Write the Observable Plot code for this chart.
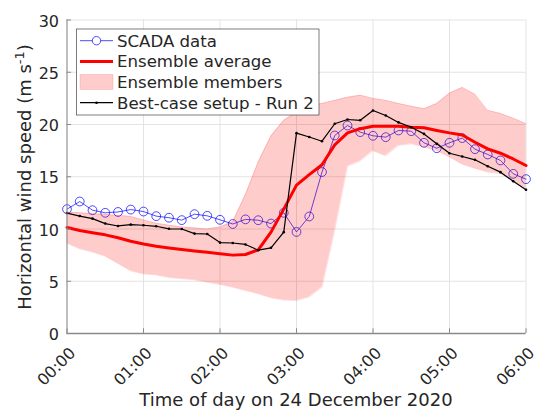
<!DOCTYPE html>
<html><head><meta charset="utf-8">
<script src="https://cdn.jsdelivr.net/npm/d3@7"></script>
<script src="https://cdn.jsdelivr.net/npm/@observablehq/plot@0.6"></script>
<style>
body{margin:0;background:#fff;}
#chart{position:relative;width:537px;height:411px;overflow:hidden;}
</style>
</head><body><div id="chart"></div>
<script>
// minutes after 00:00 on 24 December 2020
const minutes = [0,10,20,30,40,50,60,70,80,90,100,110,120,130,140,150,160,170,180,190,200,210,220,230,240,250,260,270,280,290,300,310,320,330,340,350,360];
const scada = [11.9,12.63,11.8,11.55,11.63,11.86,11.67,11.23,11.08,10.85,11.42,11.26,10.88,10.48,10.92,10.84,10.52,11.55,9.72,11.2,15.45,18.95,19.9,19.27,18.92,18.79,19.43,19.36,18.25,17.73,18.25,18.7,17.64,17.13,16.56,15.28,14.77];
const ensembleAvg = [10.15,9.85,9.65,9.44,9.16,8.83,8.56,8.35,8.18,8.03,7.9,7.78,7.63,7.5,7.56,8.0,9.7,11.9,14.2,15.2,16.15,18.05,19.2,19.6,19.84,19.84,19.84,19.74,19.68,19.43,19.2,19.0,18.3,17.67,17.25,16.7,16.08];
const ensembleMax = [11.6,11.55,11.45,11.4,11.3,11.2,10.85,10.55,10.35,10.2,10.1,10.0,10.2,10.7,13.3,16.4,18.9,20.4,21.2,21.8,22.0,22.3,22.6,22.8,22.5,22.3,22.0,21.75,21.5,22.0,23.0,23.55,22.9,21.35,21.05,20.6,20.07];
const ensembleMin = [8.64,8.1,7.8,7.4,6.7,6.0,5.7,5.6,5.35,5.25,5.14,4.91,4.69,4.43,4.11,3.8,3.42,3.2,3.16,3.5,4.43,9.9,16.0,16.5,17.5,17.0,18.0,18.15,17.85,17.5,16.9,16.2,15.8,15.45,15.3,14.62,13.9];
const bestCase = [11.52,11.24,10.99,10.52,10.29,10.42,10.36,10.26,10.02,10.0,9.56,9.52,8.7,8.66,8.52,7.97,8.2,9.7,19.17,18.8,18.4,20.07,20.48,20.4,21.34,20.86,20.2,19.74,19.1,18.15,17.25,16.94,16.62,16.0,15.44,14.57,13.75];

const xTicks = [0,60,120,180,240,300,360];
const xTickLabels = ["00:00","01:00","02:00","03:00","04:00","05:00","06:00"];
const yTicks = [0,5,10,15,20,25,30];
const seriesLabels = ["SCADA data","Ensemble average","Ensemble members","Best-case setup - Run 2"];
const xTitle = "Time of day on 24 December 2020";
const yTitleMain = "Horizontal wind speed (m s";
const yTitleSup = "-1";
const yTitleEnd = ")";

const table = minutes.map((t, i) => ({
  t, scada: scada[i], avg: ensembleAvg[i], lo: ensembleMin[i], hi: ensembleMax[i], best: bestCase[i]
}));

const FONT = "DejaVu Sans";
const TXT = "#262626";
const AXIS = "#8a8a8a";

const chart = Plot.plot({
  width: 537,
  height: 411,
  marginLeft: 66.5,
  marginRight: 11.5,
  marginTop: 19.5,
  marginBottom: 78,
  style: {fontFamily: FONT, fontSize: "16px", color: TXT, background: "#fff"},
  x: {domain: [0, 360], axis: null},
  y: {domain: [0, 30], axis: null},
  marks: [
    Plot.gridX(xTicks, {stroke: "#e3e3e3", strokeOpacity: 1, strokeWidth: 1}),
    Plot.gridY(yTicks, {stroke: "#e3e3e3", strokeOpacity: 1, strokeWidth: 1}),
    Plot.line(table, {x: "t", y: "scada", stroke: "#0000ff", strokeWidth: 0.7}),
    Plot.dot(table, {x: "t", y: "scada", r: 4.4, stroke: "#0000ff", fill: "none", strokeWidth: 0.7}),
    Plot.line(table, {x: "t", y: "avg", stroke: "#ff0000", strokeWidth: 3}),
    Plot.areaY(table, {x: "t", y1: "lo", y2: "hi", fill: "#ff0000", fillOpacity: 0.2}),
    Plot.line(table, {x: "t", y: "hi", stroke: "#ff0000", strokeOpacity: 0.2, strokeWidth: 0.7}),
    Plot.line(table, {x: "t", y: "lo", stroke: "#ff0000", strokeOpacity: 0.2, strokeWidth: 0.7}),
    Plot.line(table, {x: "t", y: "best", stroke: "#000", strokeWidth: 1.2}),
    Plot.dot(table, {x: "t", y: "best", r: 1.3, fill: "#000"}),
    Plot.ruleX(xTicks, {x: d => d, y1: 0, y2: 0.45, stroke: AXIS, strokeWidth: 1}),
    Plot.ruleY(yTicks, {y: d => d, x1: 0, x2: 3.6, stroke: AXIS, strokeWidth: 1}),
    Plot.ruleX([0], {stroke: AXIS, strokeWidth: 1}),
    Plot.ruleY([0], {stroke: AXIS, strokeWidth: 1.3}),
    Plot.text(yTicks, {y: d => d, frameAnchor: "left", text: d => String(d), textAnchor: "end", dx: -8, dy: 1.5, fontSize: 16, fill: TXT}),
    Plot.text(xTicks, {x: d => d, frameAnchor: "bottom", text: (d, i) => xTickLabels[i], rotate: -45, textAnchor: "end", lineAnchor: "bottom", dx: 9.5, dy: 20.5, fontSize: 16, fill: TXT})
  ]
});

const svg = d3.select(chart);
svg.attr("font-family", FONT);

// x-axis title
svg.append("text")
  .attr("x", 296).attr("y", 406)
  .attr("text-anchor", "middle")
  .attr("font-size", 18)
  .attr("fill", TXT)
  .text(xTitle);

// y-axis title with superscript
const yt = svg.append("text")
  .attr("transform", "translate(31,177) rotate(-90)")
  .attr("text-anchor", "middle")
  .attr("font-size", 18)
  .attr("fill", TXT);
yt.append("tspan").text(yTitleMain);
yt.append("tspan").attr("dy", -7).attr("font-size", 13).text(yTitleSup);
yt.append("tspan").attr("dy", 7).text(yTitleEnd);

// legend
const lg = svg.append("g").attr("font-size", 16.6).attr("fill", TXT).attr("text-anchor", "start");
lg.append("rect").attr("x", 76.5).attr("y", 29).attr("width", 242.5).attr("height", 86)
  .attr("fill", "#fff").attr("stroke", "#262626").attr("stroke-width", 0.6);
const rowY = [40.7, 61.5, 82, 102.7];
const sx0 = 80, sx1 = 113, tx = 117;
// SCADA
lg.append("line").attr("x1", sx0).attr("x2", sx1).attr("y1", rowY[0]).attr("y2", rowY[0]).attr("stroke", "#0000ff").attr("stroke-width", 0.7);
lg.append("circle").attr("cx", (sx0 + sx1) / 2).attr("cy", rowY[0]).attr("r", 4.2).attr("fill", "#fff").attr("stroke", "#0000ff").attr("stroke-width", 0.7);
// average
lg.append("line").attr("x1", sx0).attr("x2", sx1).attr("y1", rowY[1]).attr("y2", rowY[1]).attr("stroke", "#ff0000").attr("stroke-width", 3);
// members
lg.append("rect").attr("x", sx0).attr("y", rowY[2] - 7.5).attr("width", sx1 - sx0).attr("height", 15)
  .attr("fill", "#ff0000").attr("fill-opacity", 0.2).attr("stroke", "#ff0000").attr("stroke-opacity", 0.2).attr("stroke-width", 0.7);
// best-case
lg.append("line").attr("x1", sx0).attr("x2", sx1).attr("y1", rowY[3]).attr("y2", rowY[3]).attr("stroke", "#000").attr("stroke-width", 1.2);
lg.append("circle").attr("cx", (sx0 + sx1) / 2).attr("cy", rowY[3]).attr("r", 1.3).attr("fill", "#000");
seriesLabels.forEach((s, i) => {
  lg.append("text").attr("x", tx).attr("y", rowY[i]).attr("dy", "0.36em").attr("text-anchor", "start").text(s);
});

document.getElementById("chart").appendChild(chart);
</script>
</body></html>
